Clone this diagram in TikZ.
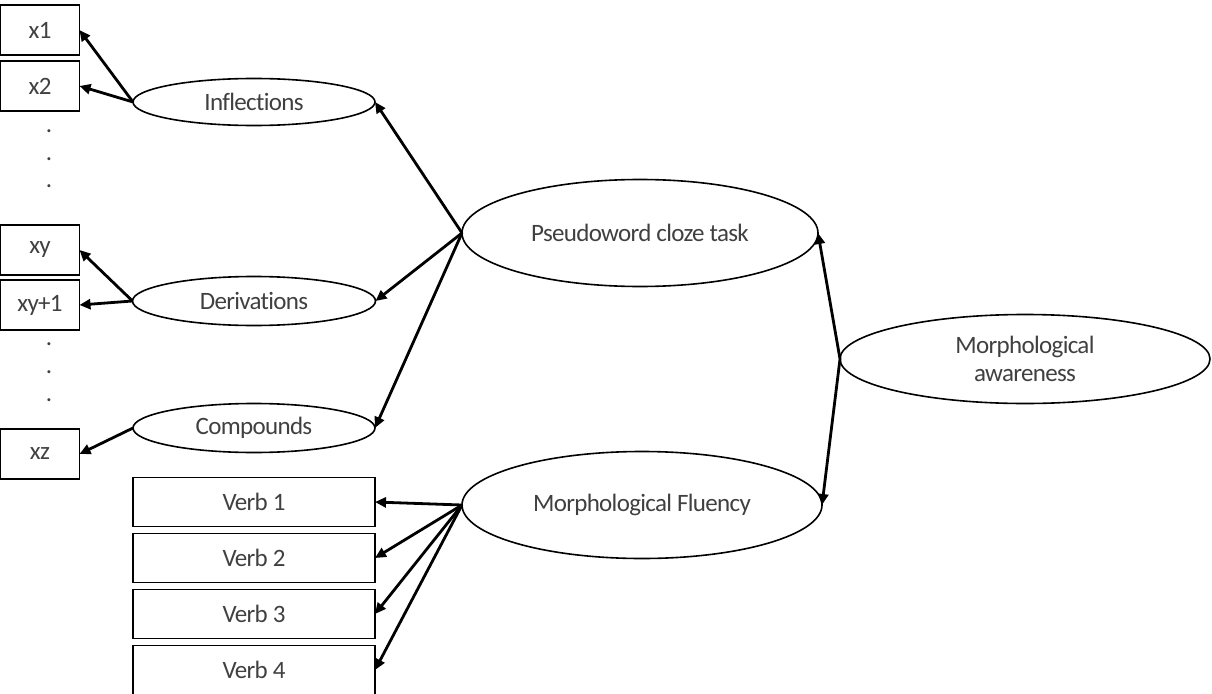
\documentclass[tikz,border=0pt]{standalone}
\usepackage{fontspec}
\setmainfont{Carlito}[Ligatures=NoCommon, LetterSpace=-2.7]
\usetikzlibrary{positioning, arrows.meta, shapes.geometric}
\tikzset{
  lvbox/.style={
    draw=black,
    line width=1.6pt,
    minimum height=49pt,
    inner sep=0pt,
    outer sep=0pt,
    text=black!75,
    font=\fontsize{25}{28}\selectfont,
  },
  % observed indicators: short boxes on the left, long boxes for the verbs
  itembox/.style={lvbox, minimum width=79pt, minimum height=50pt},
  verbbox/.style={lvbox, minimum width=242pt},
  latent/.style={
    ellipse,
    draw=black,
    line width=1.6pt,
    inner sep=0pt,
    outer sep=0pt,
    align=center,
    text=black!75,
    font=\fontsize{25}{28}\selectfont,
  },
  dotgap/.style={inner sep=0pt, text=black!75, font=\fontsize{25}{28}\selectfont},
  semArr/.style={-{Triangle[length=11pt, width=10pt]}, line width=2.8pt},
}

\begin{document}
\begin{tikzpicture}[x=1pt, y=-1pt]
  \useasboundingbox (0,0) rectangle (1212,693);

  % --- indicator boxes ---
  \node[itembox] (x1) at (40,30) {x1};
  \node[itembox, below=6pt of x1] (x2) {x2};
  \node[dotgap] (dotsA1) at (49,131) {.};
  \node[dotgap] (dotsA2) at (49,159) {.};
  \node[dotgap] (dotsA3) at (49,186) {.};
  \node[itembox] (xy) at (40,250) {xy};
  \node[itembox, below=5pt of xy] (xyone) {xy+1};
  \node[dotgap] (dotsB1) at (49,344) {.};
  \node[dotgap] (dotsB2) at (49,372) {.};
  \node[dotgap] (dotsB3) at (49,400) {.};
  \node[itembox] (xz) at (40,454) {xz};

  % --- first-order factors ---
  \node[latent, minimum width=242pt, minimum height=47pt] (infl) at (254,102) {Inflections};
  \node[latent, minimum width=243pt, minimum height=49pt] (deriv) at (254,301) {Derivations};
  \node[latent, minimum width=242pt, minimum height=49pt] (comp) at (254,428) {Compounds};

  \node[verbbox] (verb1) at (254,502) {Verb 1};
  \node[verbbox, below=7pt of verb1] (verb2) {Verb 2};
  \node[verbbox, below=7pt of verb2] (verb3) {Verb 3};
  \node[verbbox, below=7pt of verb3] (verb4) {Verb 4};

  \node[latent, minimum width=356pt, minimum height=107pt] (pseudo) at (640,233) {Pseudoword cloze task};
  \node[latent, minimum width=360pt, minimum height=107pt] (fluency) at (642,505) {Morphological Fluency};
  \node[latent, minimum width=370pt, minimum height=89pt] (aware) at (1025,359) {Morphological\\awareness};

  % --- arrows ---
  \draw[semArr] (infl.west) -- (x1.east);
  \draw[semArr] (infl.west) -- (x2.east);
  \draw[semArr] (deriv.west) -- (xy.east);
  \draw[semArr] (deriv.west) -- (xyone.east);
  \draw[semArr] (comp.west) -- (xz.east);

  \draw[semArr] (pseudo.west) -- (infl.east);
  \draw[semArr] (pseudo.west) -- (deriv.east);
  \draw[semArr] (pseudo.west) -- (comp.east);

  \draw[semArr] (fluency.west) -- (verb1.east);
  \draw[semArr] (fluency.west) -- (verb2.east);
  \draw[semArr] (fluency.west) -- (verb3.east);
  \draw[semArr] (fluency.west) -- (verb4.east);

  \draw[semArr] (aware.west) -- (pseudo.east);
  \draw[semArr] (aware.west) -- (fluency.east);
\end{tikzpicture}
\end{document}
